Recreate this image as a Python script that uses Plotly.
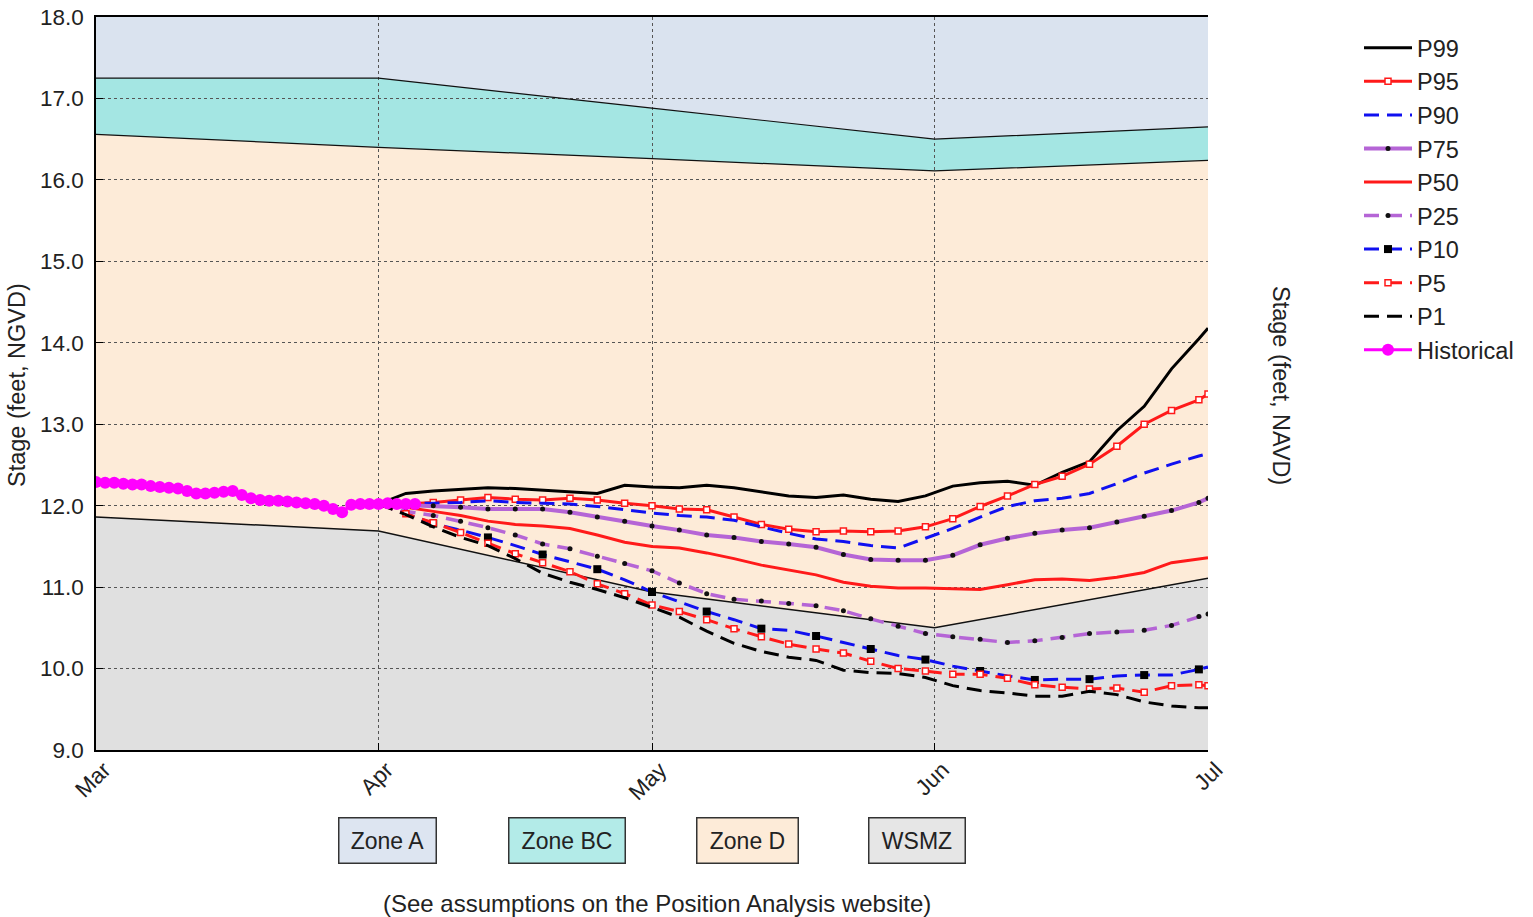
import plotly.graph_objects as go
import pandas as pd

FONT = "Liberation Sans, Arial, sans-serif"
BASE = pd.Timestamp("2023-03-01")


def day(d):
    return (pd.Timestamp(d) - BASE).days


# ---------------- data ----------------
month_dates = ["2023-03-01", "2023-04-01", "2023-05-01", "2023-06-01", "2023-07-01"]
month_labels = ["Mar", "Apr", "May", "Jun", "Jul"]

left_ticks = [9.0, 10.0, 11.0, 12.0, 13.0, 14.0, 15.0, 16.0, 17.0, 18.0]
right_ticks = [7.7, 8.7, 9.7, 10.7, 11.7, 12.7, 13.7, 14.7, 15.7, 16.7]

# regulation zone boundaries (feet NGVD) at month starts
zone_dates = month_dates
zone_a_bottom = [17.25, 17.25, 16.88, 16.50, 16.65]
zone_d_top = [16.56, 16.40, 16.26, 16.11, 16.24]
wsmz_top = [11.86, 11.69, 10.94, 10.50, 11.11]

# historical daily stage, Mar 1 .. Apr 5
hist_dates = pd.date_range("2023-03-01", "2023-04-05")
hist_vals = [12.29, 12.28, 12.28, 12.27, 12.26, 12.26, 12.24, 12.23, 12.22, 12.21,
             12.18, 12.15, 12.15, 12.16, 12.17, 12.18, 12.13, 12.09, 12.07, 12.06,
             12.06, 12.05, 12.04, 12.03, 12.02, 12.00, 11.96, 11.92, 12.01, 12.02,
             12.02, 12.02, 12.03, 12.02, 12.02, 12.02]

# percentile projections: days after Apr 1
pct_days = [0, 3, 6, 9, 12, 15, 18, 21, 24, 27, 30, 33, 36, 39, 42, 45,
            48, 51, 54, 57, 60, 63, 66, 69, 72, 75, 78, 81, 84, 87, 90, 91]

p99 = [12.02, 12.15, 12.18, 12.20, 12.22, 12.21, 12.19, 12.17, 12.15, 12.25, 12.23,
       12.22, 12.25, 12.22, 12.17, 12.12, 12.10, 12.13, 12.08, 12.05, 12.12, 12.24,
       12.28, 12.30, 12.25, 12.41, 12.54, 12.92, 13.22, 13.68, 14.05, 14.18]
p95 = [12.02, 12.02, 12.04, 12.07, 12.10, 12.08, 12.07, 12.09, 12.07, 12.03, 12.00,
       11.96, 11.95, 11.86, 11.77, 11.71, 11.68, 11.69, 11.68, 11.69, 11.74, 11.84,
       11.99, 12.12, 12.26, 12.36, 12.51, 12.73, 13.00, 13.17, 13.30, 13.37]
p90 = [12.02, 12.03, 12.03, 12.04, 12.06, 12.04, 12.03, 12.02, 11.99, 11.95, 11.91,
       11.88, 11.86, 11.82, 11.74, 11.66, 11.59, 11.56, 11.51, 11.48, 11.60, 11.72,
       11.86, 11.99, 12.06, 12.09, 12.15, 12.27, 12.40, 12.51, 12.61, 12.64]
p75 = [12.02, 12.01, 12.00, 11.98, 11.96, 11.96, 11.96, 11.92, 11.86, 11.81, 11.75,
       11.70, 11.64, 11.61, 11.56, 11.53, 11.49, 11.40, 11.34, 11.33, 11.33, 11.39,
       11.52, 11.60, 11.66, 11.70, 11.73, 11.80, 11.87, 11.94, 12.04, 12.09]
p50 = [12.02, 11.98, 11.93, 11.88, 11.81, 11.77, 11.75, 11.72, 11.64, 11.55, 11.50,
       11.48, 11.42, 11.35, 11.27, 11.21, 11.15, 11.06, 11.01, 10.99, 10.99, 10.98,
       10.97, 11.03, 11.09, 11.10, 11.08, 11.12, 11.18, 11.30, 11.35, 11.36]
p25 = [12.02, 11.93, 11.88, 11.81, 11.73, 11.64, 11.53, 11.47, 11.38, 11.29, 11.20,
       11.05, 10.92, 10.85, 10.83, 10.80, 10.77, 10.71, 10.61, 10.52, 10.43, 10.39,
       10.36, 10.32, 10.34, 10.38, 10.43, 10.45, 10.47, 10.53, 10.64, 10.67]
p10 = [12.02, 11.90, 11.78, 11.70, 11.61, 11.51, 11.40, 11.31, 11.22, 11.09, 10.94,
       10.82, 10.70, 10.60, 10.49, 10.47, 10.40, 10.32, 10.24, 10.16, 10.11, 10.03,
       9.97, 9.91, 9.86, 9.87, 9.87, 9.91, 9.92, 9.92, 9.99, 10.02]
p5 = [12.02, 11.90, 11.79, 11.67, 11.54, 11.41, 11.30, 11.19, 11.04, 10.92, 10.78,
      10.70, 10.60, 10.49, 10.39, 10.30, 10.24, 10.19, 10.09, 10.00, 9.97, 9.93,
      9.93, 9.88, 9.80, 9.77, 9.75, 9.76, 9.71, 9.79, 9.80, 9.79]
p1 = [12.02, 11.89, 11.74, 11.61, 11.51, 11.35, 11.17, 11.06, 10.97, 10.87, 10.75,
      10.63, 10.46, 10.31, 10.21, 10.14, 10.10, 9.98, 9.95, 9.94, 9.89, 9.79,
      9.73, 9.70, 9.66, 9.66, 9.72, 9.68, 9.59, 9.54, 9.52, 9.52]

zone_names = ["Zone A", "Zone BC", "Zone D", "WSMZ"]
footnote = "(See assumptions on the Position Analysis website)"

# ---------------- styles ----------------
C_A = "#dae3ef"
C_BC = "#a4e6e3"
C_D = "#fdebd8"
C_W = "#e0e0e0"
BOX_BG = ["#dde5f1", "#b3ebe8", "#fdebd8", "#e6e6e6"]
RED = "#ff1a1a"
BLUE = "#1010f0"
PURPLE = "#b565d6"
MAG = "#ff00ff"
DASH = "15px,8px"
TXT = "#222"

Y_MIN, Y_MAX = 9.0, 18.0
X_MIN, X_MAX = day(month_dates[0]), day(month_dates[-1])

zx = [day(d) for d in zone_dates]
px = [day("2023-04-01") + d for d in pct_days]
hx = [day(d) for d in hist_dates]


def band_path(xs, top, bottom):
    pts = [f"{x},{y}" for x, y in zip(xs, top)]
    pts += [f"{x},{y}" for x, y in zip(xs[::-1], bottom[::-1])]
    return "M " + " L ".join(pts) + " Z"


shapes = [
    dict(type="path", xref="x", yref="y", layer="below", line=dict(width=0),
         fillcolor=C_BC, path=band_path(zx, zone_a_bottom, zone_d_top)),
    dict(type="path", xref="x", yref="y", layer="below", line=dict(width=0),
         fillcolor=C_D, path=band_path(zx, zone_d_top, wsmz_top)),
    dict(type="path", xref="x", yref="y", layer="below", line=dict(width=0),
         fillcolor=C_W, path=band_path(zx, wsmz_top, [Y_MIN] * len(zx))),
]

fig = go.Figure()

for vals, w in [(zone_a_bottom, 1.2), (zone_d_top, 1.2), (wsmz_top, 1.5)]:
    fig.add_trace(go.Scatter(x=zx, y=vals, mode="lines", line=dict(color="#111", width=w),
                             showlegend=False, hoverinfo="skip"))

open_sq = dict(symbol="square", size=6, color="white", line=dict(color=RED, width=1.5))
dot = dict(symbol="circle", size=5, color="#111", line=dict(width=0))

series = [
    ("P99", p99, dict(color="black", width=3), None),
    ("P95", p95, dict(color=RED, width=3), open_sq),
    ("P90", p90, dict(color=BLUE, width=3, dash=DASH), None),
    ("P75", p75, dict(color=PURPLE, width=4), dot),
    ("P50", p50, dict(color=RED, width=3), None),
    ("P25", p25, dict(color=PURPLE, width=3.5, dash=DASH), dot),
    ("P10", p10, dict(color=BLUE, width=3, dash=DASH),
     dict(symbol="square", size=8, color="black", maxdisplayed=16)),
    ("P5", p5, dict(color=RED, width=3, dash=DASH), open_sq),
    ("P1", p1, dict(color="black", width=3, dash=DASH), None),
]
for name, vals, line, marker in series:
    fig.add_trace(go.Scatter(x=px, y=vals, name=name, line=line,
                             mode="lines+markers" if marker else "lines",
                             marker=marker if marker else None))

fig.add_trace(go.Scatter(x=hx, y=hist_vals, name="Historical", mode="lines+markers",
                         line=dict(color=MAG, width=3),
                         marker=dict(symbol="circle", size=12, color=MAG)))

# ---------------- layout ----------------
L, R, T, B = 96, 1208, 17, 750
W, H = 1533, 917
pw, ph = R - L, B - T

annotations = [
    dict(text="Stage (feet, NGVD)", xref="paper", yref="paper", x=(17 - L) / pw, y=(B - 385) / ph,
         xanchor="center", yanchor="middle",
         textangle=-90, showarrow=False, font=dict(size=23.5, color=TXT, family=FONT)),
    dict(text="Stage (feet, NAVD)", xref="paper", yref="paper", x=(1281 - L) / pw, y=(B - 385) / ph,
         xanchor="center", yanchor="middle",
         textangle=90, showarrow=False, font=dict(size=23.5, color=TXT, family=FONT)),
    dict(text=footnote, xref="paper", yref="paper", x=(657 - L) / pw, y=(B - 903) / ph,
         xanchor="center", yanchor="middle",
         showarrow=False, font=dict(size=24, color=TXT, family=FONT)),
]
box_cx = [387.5, 567, 747.5, 917]
box_w = [96, 115, 100, 95]
for name, cx, bw, bg in zip(zone_names, box_cx, box_w, BOX_BG):
    annotations.append(dict(text=name, xref="paper", yref="paper", x=(cx - L) / pw,
                            y=(B - 840) / ph, xanchor="center", yanchor="middle",
                            showarrow=False, width=bw, height=44,
                            bgcolor=bg, bordercolor="#333", borderwidth=1.5, borderpad=0,
                            font=dict(size=23, color=TXT, family=FONT)))

fig.update_layout(
    width=W, height=H,
    margin=dict(l=L, r=W - R, t=T, b=H - B, autoexpand=False),
    paper_bgcolor="white", plot_bgcolor=C_A,
    font=dict(family=FONT, size=22, color=TXT),
    shapes=shapes, annotations=annotations,
    showlegend=True,
    legend=dict(x=(1359 - L) / pw, y=(B - 26) / ph, xanchor="left", yanchor="top",
                bgcolor="rgba(0,0,0,0)", font=dict(size=23.5, color=TXT, family=FONT),
                tracegroupgap=0, itemwidth=48),
    xaxis=dict(range=[X_MIN, X_MAX], tickvals=[day(d) for d in month_dates],
               ticktext=month_labels, tickangle=-45, ticks="inside", ticklen=7,
               tickcolor="black", showline=True, linecolor="black", linewidth=1.5,
               mirror=True, showgrid=True, gridcolor="#555", griddash="dot", gridwidth=1,
               zeroline=False, automargin=False, ticklabelshift=8, ticklabelstandoff=-4,
               tickfont=dict(size=22.5, color=TXT)),
    yaxis=dict(range=[Y_MIN, Y_MAX], tickvals=left_ticks,
               ticktext=[f"{v:.1f}" for v in left_ticks], ticks="inside", ticklen=7,
               tickcolor="black", showline=True, linecolor="black", linewidth=1.5,
               showgrid=True, gridcolor="#555", griddash="dot", gridwidth=1,
               zeroline=False, automargin=False, ticklabelstandoff=6,
               tickfont=dict(size=22.5, color=TXT)),
    yaxis2=dict(range=[right_ticks[0], right_ticks[-1]], overlaying="y", side="right",
                tickvals=right_ticks, ticktext=[f"{v:.1f}" for v in right_ticks],
                ticks="inside", ticklen=7, tickcolor="black", showline=True,
                linecolor="black", linewidth=1.5, showgrid=False, zeroline=False,
                automargin=False, ticklabelstandoff=6, tickfont=dict(size=22.5, color=TXT)),
)

fig.write_html("out.html", config={"displayModeBar": False},
               post_script="document.body.style.margin='0';document.body.style.overflow='hidden';")
